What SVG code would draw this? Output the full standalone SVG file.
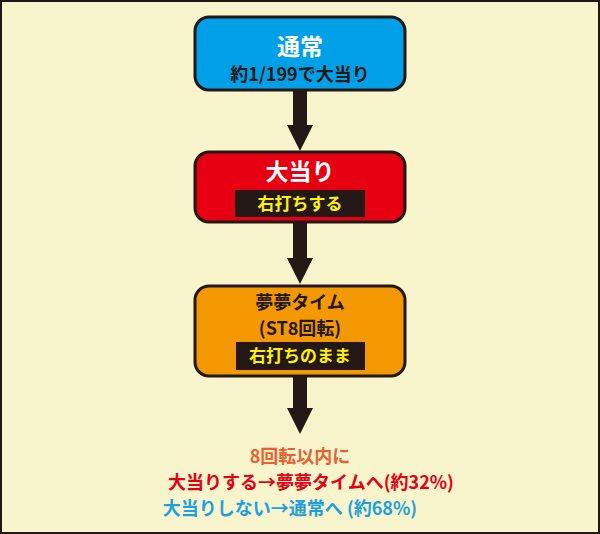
<svg xmlns="http://www.w3.org/2000/svg" width="600" height="534" viewBox="0 0 600 534">
<style>
text{font-family:"Noto Sans CJK JP","Noto Sans",sans-serif;font-weight:bold;text-anchor:middle}
.box{stroke:#231815;stroke-width:3}
.lbl{fill:#231815}
.ye{fill:#fff100;font-size:17px}
</style>
<defs><marker id="ah" markerWidth="32" markerHeight="26" refX="0" refY="13" orient="auto" markerUnits="userSpaceOnUse"><path d="M0,0 L26,13 L0,26 Z" fill="#231815"/></marker></defs>
<rect x="1" y="1" width="598" height="532" fill="#f8f4cc" stroke="#231815" stroke-width="2"/>
<g id="connectors" stroke="#231815" stroke-width="14" fill="none">
<path d="M300,90 V125" marker-end="url(#ah)"/>
<path d="M300,222 V258" marker-end="url(#ah)"/>
<path d="M300,376 V408" marker-end="url(#ah)"/>
</g>
<g id="normal">
<rect class="box" x="195" y="17" width="210" height="73" rx="14" fill="#00a0e9"/>
<text x="300" y="55" font-size="23" fill="#fff">通常</text>
<text x="300" y="81" font-size="18" fill="#231815">約1/199で大当り</text>
</g>
<g id="jackpot">
<rect class="box" x="195" y="152" width="210" height="70" rx="14" fill="#e60012"/>
<text x="300" y="180" font-size="23" fill="#fff">大当り</text>
<rect class="lbl" x="235" y="190" width="130" height="27"/>
<text class="ye" x="300" y="210">右打ちする</text>
</g>
<g id="yume">
<rect class="box" x="195" y="286" width="210" height="90" rx="14" fill="#f39800"/>
<text x="300" y="309" font-size="18" fill="#231815">夢夢タイム</text>
<text x="300" y="335" font-size="18" fill="#231815">(ST8回転)</text>
<rect class="lbl" x="236" y="342" width="129" height="28"/>
<text class="ye" x="300" y="362">右打ちのまま</text>
</g>
<g id="result">
<text x="300" y="463" font-size="18" fill="#ea6130">8回転以内に</text>
<text x="311" y="489" font-size="18" fill="#e60012">大当りする→夢夢タイムへ(約32%)</text>
<text x="290" y="515" font-size="18" fill="#1ea0e0">大当りしない→通常へ (約68%)</text>
</g>
</svg>
